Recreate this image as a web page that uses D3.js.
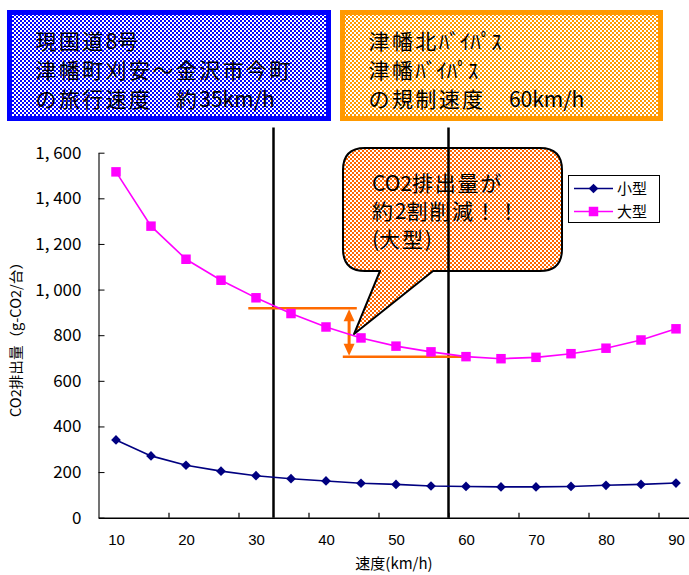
<!DOCTYPE html>
<html>
<head>
<meta charset="utf-8">
<script src="https://cdn.jsdelivr.net/npm/d3@7"></script>
<style>
  html, body { margin: 0; padding: 0; background: #fff; }
  svg { display: block; font-family: "Noto Sans CJK JP", "Noto Sans", sans-serif; }
</style>
</head>
<body>
<svg id="chart" width="689" height="575"></svg>
<script>
// 速度別 CO2 排出量（g-CO2/台）
const speeds = [10, 15, 20, 25, 30, 35, 40, 45, 50, 55, 60, 65, 70, 75, 80, 85, 90];
const smallCar = [341, 271, 230, 204, 184, 171, 161, 151, 146, 139, 137, 135, 135, 137, 142, 146, 152];
const largeCar = [1516, 1278, 1133, 1041, 964, 895, 836, 788, 752, 727, 706, 697, 703, 719, 743, 779, 828];
const seriesNames = ["小型", "大型"];

const xLabelSpeeds = [10, 20, 30, 40, 50, 60, 70, 80, 90];
const xTickBoundaries = [17.5, 27.5, 37.5, 47.5, 57.5, 67.5, 77.5, 87.5];
const yTicks = [0, 200, 400, 600, 800, 1000, 1200, 1400, 1600];

// 旅行速度（現国道8号）と規制速度（バイパス）
const refSpeeds = [35, 60];
// 大型車の削減幅（矢印）
const reductionFrom = 918;
const reductionTo = 706;
const reductionUpperSpan = [28.9, 44.4];
const reductionLowerSpan = [42.4, 60.6];
const reductionArrowAt = 43.3;
const calloutTip = { speed: 44, value: 805 };

const svg = d3.select("#chart");
const defs = svg.append("defs");

function checker(id, color, cell) {
  const p = defs.append("pattern")
    .attr("id", id).attr("patternUnits", "userSpaceOnUse")
    .attr("width", cell * 2).attr("height", cell * 2);
  p.append("rect").attr("width", cell * 2).attr("height", cell * 2).attr("fill", "#fff");
  p.append("rect").attr("width", cell).attr("height", cell).attr("fill", color);
  p.append("rect").attr("x", cell).attr("y", cell).attr("width", cell).attr("height", cell).attr("fill", color);
}
checker("chkBlue", "#0000ff", 2);
checker("chkOrange", "#ff9900", 2);
checker("chkCallout", "#ff6600", 2);

// 全角文字だけに字間を付け、英数字は詰めて組む
function spacedText(parent, str, xPos, yPos, size, cjkGap) {
  const t = parent.append("text").attr("x", xPos).attr("y", yPos).attr("dy", "0.36em")
    .attr("font-size", size).attr("fill", "#000");
  const runs = [];
  for (const ch of str) {
    const wide = ch.charCodeAt(0) >= 0x2e80 && !(ch.charCodeAt(0) >= 0xff61 && ch.charCodeAt(0) <= 0xff9f);
    const last = runs[runs.length - 1];
    if (last && last.wide === wide) last.s += ch; else runs.push({ wide, s: ch });
  }
  runs.forEach(rn => {
    t.append("tspan").attr("letter-spacing", rn.wide ? `${cjkGap}px` : "0px").text(rn.s);
  });
  return t;
}

const plotLeft = 98.5, plotRight = 693.5, plotTop = 152.7, plotBottom = 517.7;

const x = d3.scaleBand().domain(speeds).range([plotLeft, plotRight]).paddingInner(0).paddingOuter(0);
const xc = s => x(s) + x.bandwidth() / 2;
const xLin = d3.scaleLinear().domain([7.5, 92.5]).range([plotLeft, plotRight]);
const y = d3.scaleLinear().domain([0, 1600]).range([plotBottom, plotTop]);

// ---- 見出しボックス ----
function headBox(x0, w, stroke, fill, lines) {
  const g = svg.append("g");
  g.append("rect").attr("x", x0).attr("y", 12.5).attr("width", w).attr("height", 106)
    .attr("fill", `url(#${fill})`).attr("stroke", stroke).attr("stroke-width", 5);
  lines.forEach((t, i) => spacedText(g, t, x0 + 26, 41.7 + i * 29, 21, 2.4));
}
headBox(9.5, 319, "#0000ff", "chkBlue", ["現国道8号", "津幡町刈安～金沢市今町", "の旅行速度　約35km/h"]);
headBox(342.5, 318, "#ff9900", "chkOrange", ["津幡北ﾊﾞｲﾊﾟｽ", "津幡ﾊﾞｲﾊﾟｽ", "の規制速度　60km/h"]);

// ---- 軸 ----
const yAxis = d3.axisLeft(y).tickValues(yTicks).tickSizeInner(-6).tickSizeOuter(0).tickPadding(17)
  .tickFormat(d => d3.format(",")(d).replace(",", ", "));
const gy = svg.append("g").attr("transform", `translate(${plotLeft},0)`).call(yAxis);
gy.select(".domain").attr("stroke", "#444").attr("stroke-width", 1.5);
gy.selectAll(".tick line").attr("stroke", "#000");
gy.selectAll(".tick text").attr("font-size", 17).attr("fill", "#000")
  .attr("font-family", "'Noto Sans CJK JP', sans-serif");

const gxTicks = svg.append("g").attr("transform", `translate(0,${plotBottom})`)
  .call(d3.axisBottom(xLin).tickValues(xTickBoundaries).tickSizeInner(-5).tickSizeOuter(0).tickFormat(""));
gxTicks.select(".domain").attr("stroke", "#000").attr("stroke-width", 1.5);
gxTicks.selectAll(".tick line").attr("stroke", "#000").attr("stroke-width", 1.2);

const gxLabels = svg.append("g").attr("transform", `translate(0,${plotBottom})`)
  .call(d3.axisBottom(xLin).tickValues(xLabelSpeeds).tickSize(0).tickPadding(17));
gxLabels.select(".domain").remove();
gxLabels.selectAll(".tick text").attr("font-size", 15).attr("fill", "#000");

svg.append("text").attr("x", 394).attr("y", 564).attr("dy", "0.36em")
  .attr("text-anchor", "middle").attr("font-size", 15).attr("fill", "#000").text("速度(km/h)");
svg.append("text").attr("transform", "translate(16,336) rotate(-90)").attr("dy", "0.36em")
  .attr("text-anchor", "middle").attr("font-size", 14).attr("fill", "#000")
  .attr("textLength", 162).attr("lengthAdjust", "spacingAndGlyphs").text("CO2排出量（g-CO2/台）");

// ---- 吹き出し ----
const tipX = xLin(calloutTip.speed), tipY = y(calloutTip.value);
const bx0 = 343, by0 = 148, bx1 = 562, by1 = 271, r = 22, tailA = 380, tailB = 433;
const calloutPath = `M${bx0 + r},${by0} H${bx1 - r} Q${bx1},${by0} ${bx1},${by0 + r} V${by1 - r} Q${bx1},${by1} ${bx1 - r},${by1} H${tailB} L${tipX},${tipY} L${tailA},${by1} H${bx0 + r} Q${bx0},${by1} ${bx0},${by1 - r} V${by0 + r} Q${bx0},${by0} ${bx0 + r},${by0} Z`;
svg.append("path").attr("d", calloutPath).attr("fill", "url(#chkCallout)")
  .attr("stroke", "#000").attr("stroke-width", 2).attr("stroke-linejoin", "round");

// ---- 速度の基準線 ----
svg.append("g").selectAll("line").data(refSpeeds).join("line")
  .attr("x1", d => x(d)).attr("x2", d => x(d))
  .attr("y1", y(1710)).attr("y2", plotBottom)
  .attr("stroke", "#000").attr("stroke-width", 2.5);

const calloutG = svg.append("g");
["CO2排出量が", "約2割削減！！", "(大型)"].forEach((t, i) => {
  spacedText(calloutG, t, 372, 183 + i * 28, 21, 1.8);
});

// ---- 削減幅の表示 ----
const orange = "#ff6a00";
const ann = svg.append("g");
ann.append("line").attr("x1", xLin(reductionUpperSpan[0])).attr("x2", xLin(reductionUpperSpan[1]))
  .attr("y1", y(reductionFrom)).attr("y2", y(reductionFrom)).attr("stroke", orange).attr("stroke-width", 2.5);
ann.append("line").attr("x1", xLin(reductionLowerSpan[0])).attr("x2", xLin(reductionLowerSpan[1]))
  .attr("y1", y(reductionTo)).attr("y2", y(reductionTo)).attr("stroke", orange).attr("stroke-width", 2.5);
const ax = xLin(reductionArrowAt);
ann.append("line").attr("x1", ax).attr("x2", ax)
  .attr("y1", y(reductionFrom) + 8).attr("y2", y(reductionTo) - 8).attr("stroke", orange).attr("stroke-width", 3);
ann.append("path").attr("d", `M${ax},${y(reductionFrom) + 1} L${ax - 5.5},${y(reductionFrom) + 13} L${ax + 5.5},${y(reductionFrom) + 13} Z`).attr("fill", orange);
ann.append("path").attr("d", `M${ax},${y(reductionTo) - 1} L${ax - 5.5},${y(reductionTo) - 13} L${ax + 5.5},${y(reductionTo) - 13} Z`).attr("fill", orange);

// ---- 系列 ----
const line = d3.line().x((d, i) => xc(speeds[i])).y(d => y(d));
const diamond = d3.symbol().type(d3.symbolDiamond2).size(60);
const square = d3.symbol().type(d3.symbolSquare).size(90);

svg.append("path").datum(largeCar).attr("d", line).attr("fill", "none")
  .attr("stroke", "#ff00ff").attr("stroke-width", 1.6);
svg.append("g").selectAll("path").data(largeCar).join("path")
  .attr("transform", (d, i) => `translate(${xc(speeds[i])},${y(d)})`)
  .attr("d", square).attr("fill", "#ff00ff");

svg.append("path").datum(smallCar).attr("d", line).attr("fill", "none")
  .attr("stroke", "#000080").attr("stroke-width", 1.6);
svg.append("g").selectAll("path").data(smallCar).join("path")
  .attr("transform", (d, i) => `translate(${xc(speeds[i])},${y(d)})`)
  .attr("d", diamond).attr("fill", "#000080");

// ---- 凡例 ----
const lg = svg.append("g");
lg.append("rect").attr("x", 568.5).attr("y", 175.5).attr("width", 91).attr("height", 47)
  .attr("fill", "#fff").attr("stroke", "#000").attr("stroke-width", 1);
const legendItems = [
  { name: seriesNames[0], color: "#000080", sym: diamond },
  { name: seriesNames[1], color: "#ff00ff", sym: square }
];
legendItems.forEach((it, i) => {
  const cy = 188.5 + i * 23;
  lg.append("line").attr("x1", 574).attr("x2", 613).attr("y1", cy).attr("y2", cy)
    .attr("stroke", it.color).attr("stroke-width", 1.6);
  lg.append("path").attr("transform", `translate(593.5,${cy})`).attr("d", it.sym).attr("fill", it.color);
  lg.append("text").attr("x", 617).attr("y", cy).attr("dy", "0.36em")
    .attr("font-size", 15).attr("fill", "#000").text(it.name);
});
</script>
</body>
</html>
